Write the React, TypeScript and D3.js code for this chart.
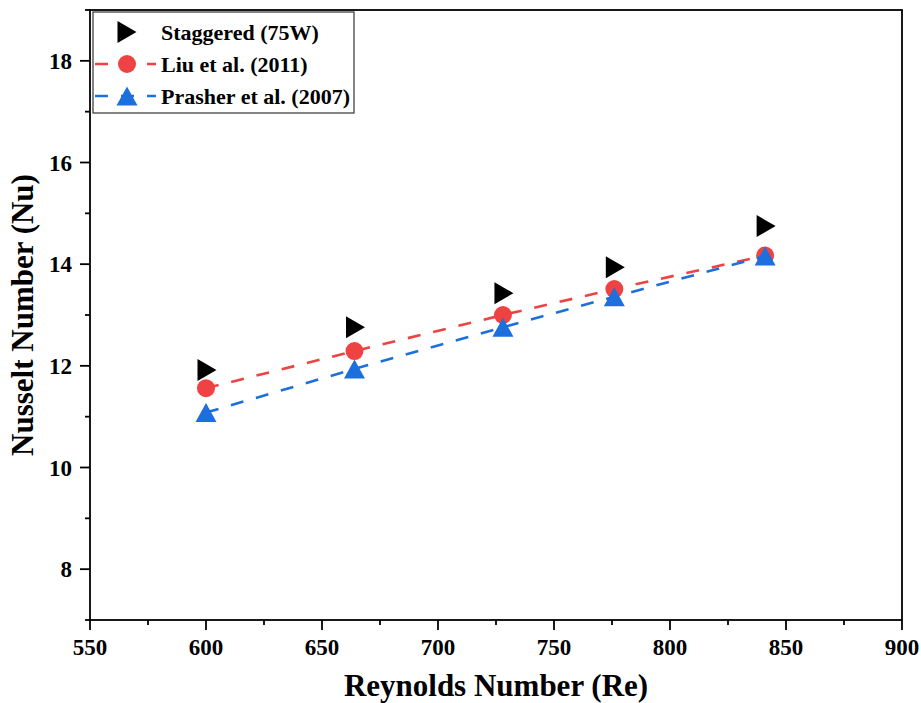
import React from "react";
import * as d3 from "d3";

const reynolds = [600, 664, 728, 776, 841];
const staggered = [11.92, 12.76, 13.43, 13.94, 14.75];
const liu = [11.56, 12.29, 13.0, 13.51, 14.17];
const prasher = [11.08, 11.94, 12.76, 13.36, 14.16];
const xTicks = [550, 600, 650, 700, 750, 800, 850, 900];
const yTicks = [8, 10, 12, 14, 16, 18];
const legendLabels = ["Staggered (75W)", "Liu et al. (2011)", "Prasher et al. (2007)"];

const W = 921, H = 703;
const L = 90, R = 902, T = 10, B = 620;
const RED = "#EF4242";
const BLUE = "#1C6FDD";
const FONT = "'Liberation Serif', 'Times New Roman', serif";

function triUp(cx: number, cy: number, w = 21, h = 19) {
  return `M${cx - w / 2},${cy + h / 2}L${cx + w / 2},${cy + h / 2}L${cx},${cy - h / 2}Z`;
}
function triRight(cx: number, cy: number, w = 19, h = 22) {
  return `M${cx - w / 2},${cy - h / 2}L${cx + w / 2},${cy}L${cx - w / 2},${cy + h / 2}Z`;
}

export default function App() {
  const x = d3.scaleLinear().domain([550, 900]).range([L, R]);
  const y = d3.scaleLinear().domain([7, 19]).range([B, T]);
  const xMinor = d3.range(575, 900, 50);
  const yMinor = d3.range(7, 19.01, 2);
  const line = d3.line<number>().x((_, i) => x(reynolds[i])).y((d) => y(d));

  const lx0 = 95, lx1 = 156, lsym = 127;
  const rows = [32, 64, 96];

  return (
    <svg width={W} height={H} style={{ position: "absolute", left: 0, top: 0, background: "#fff" }} fontFamily={FONT}>
      <rect x={0} y={0} width={W} height={H} fill="#fff" />
      {/* frame */}
      <rect x={L} y={T} width={R - L} height={B - T} fill="none" stroke="#000" strokeWidth={1.8} />
      {/* x ticks */}
      {xTicks.map((t) => (
        <g key={"xt" + t}>
          <line x1={x(t)} x2={x(t)} y1={B} y2={B + 10} stroke="#000" strokeWidth={1.8} />
          <text x={x(t)} y={655} textAnchor="middle" fontSize={23} fontWeight="bold">{t}</text>
        </g>
      ))}
      {xMinor.map((t) => (
        <line key={"xm" + t} x1={x(t)} x2={x(t)} y1={B} y2={B + 5} stroke="#000" strokeWidth={1.8} />
      ))}
      {/* y ticks */}
      {yTicks.map((t) => (
        <g key={"yt" + t}>
          <line x1={L - 10} x2={L} y1={y(t)} y2={y(t)} stroke="#000" strokeWidth={1.8} />
          <text x={72} y={y(t)} dy="0.35em" textAnchor="end" fontSize={23} fontWeight="bold">{t}</text>
        </g>
      ))}
      {yMinor.map((t) => (
        <line key={"ym" + t} x1={L - 5} x2={L} y1={y(t)} y2={y(t)} stroke="#000" strokeWidth={1.8} />
      ))}
      {/* axis titles */}
      <text x={(L + R) / 2} y={696} textAnchor="middle" fontSize={31} fontWeight="bold">Reynolds Number (Re)</text>
      <text transform={`translate(33,${(T + B) / 2}) rotate(-90)`} textAnchor="middle" fontSize={31} fontWeight="bold">Nusselt Number (Nu)</text>

      {/* series */}
      {staggered.map((v, i) => (
        <path key={"s" + i} d={triRight(x(reynolds[i]) + 1, y(v))} fill="#000" />
      ))}
      <path d={line(liu) || ""} fill="none" stroke={RED} strokeWidth={2.6} strokeDasharray="13 13" />
      {liu.map((v, i) => (
        <circle key={"l" + i} cx={x(reynolds[i])} cy={y(v)} r={9} fill={RED} />
      ))}
      <path d={line(prasher) || ""} fill="none" stroke={BLUE} strokeWidth={2.6} strokeDasharray="13 13" />
      {prasher.map((v, i) => (
        <path key={"p" + i} d={triUp(x(reynolds[i]), y(v))} fill={BLUE} />
      ))}

      {/* legend */}
      <rect x={93} y={12} width={261} height={101} fill="#fff" stroke="#333" strokeWidth={1.2} />
      <path d={triRight(lsym, rows[0])} fill="#000" />
      <line x1={lx0} x2={lx1} y1={rows[1]} y2={rows[1]} stroke={RED} strokeWidth={2.6} strokeDasharray="13 13" />
      <circle cx={lsym} cy={rows[1]} r={9} fill={RED} />
      <line x1={lx0} x2={lx1} y1={rows[2]} y2={rows[2]} stroke={BLUE} strokeWidth={2.6} strokeDasharray="13 13" />
      <path d={triUp(lsym, rows[2])} fill={BLUE} />
      {legendLabels.map((s, i) => (
        <text key={s} x={161} y={rows[i]} dy="0.35em" fontSize={22} fontWeight="bold">{s}</text>
      ))}
    </svg>
  );
}
